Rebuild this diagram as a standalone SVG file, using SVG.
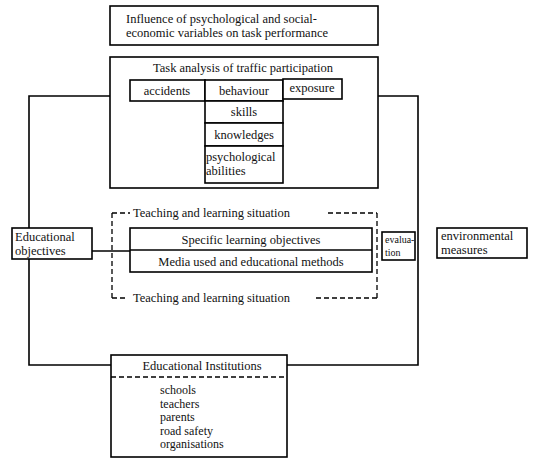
<svg xmlns="http://www.w3.org/2000/svg" width="536" height="458" viewBox="0 0 536 458">
<style>
.b{fill:#fff;stroke:#000;stroke-width:1.6}
.l{fill:none;stroke:#000;stroke-width:1.6}
.d{fill:none;stroke:#000;stroke-width:1.3;stroke-dasharray:5 3}
text{font-family:"Liberation Serif","Times New Roman",serif;font-size:12.5px;fill:#111}
.c{text-anchor:middle}
.s{font-size:10px}
.m{font-size:12px}
</style>
<rect width="536" height="458" fill="#fff"/>
<g id="connectors">
<polyline class="l" points="110,96 29,96 29,365 111,365"/>
<polyline class="l" points="378,96 418,96 418,365 287,365"/>
<line class="l" x1="92" y1="251" x2="130" y2="251"/>
</g>
<g id="influence">
<rect class="b" x="110" y="6" width="268" height="39"/>
<text x="126" y="23">Influence of psychological and social-</text>
<text x="126" y="37">economic variables on task performance</text>
</g>
<g id="task-analysis">
<rect class="b" x="110" y="57" width="268" height="131"/>
<text class="c" x="243" y="72">Task analysis of traffic participation</text>
</g>
<g id="accidents"><rect class="b" x="130" y="80" width="75" height="21"/><text class="c" x="167" y="95">accidents</text></g>
<g id="behaviour"><rect class="b" x="205" y="80" width="78" height="21"/><text class="c" x="244" y="95">behaviour</text></g>
<g id="exposure"><rect class="b" x="283" y="79" width="59" height="20"/><text class="c" x="312" y="92">exposure</text></g>
<g id="skills"><rect class="b" x="205" y="101" width="78" height="22"/><text class="c" x="244" y="116">skills</text></g>
<g id="knowledges"><rect class="b" x="205" y="123" width="78" height="23"/><text class="c" x="244" y="139">knowledges</text></g>
<g id="psychological-abilities"><rect class="b" x="205" y="146" width="78" height="37"/><text x="206" y="161">psychological</text><text x="206" y="175">abilities</text></g>
<g id="teaching-situation">
<line class="d" x1="112" y1="213" x2="112" y2="298"/>
<line class="d" x1="112" y1="213" x2="130" y2="213"/>
<text x="133" y="217">Teaching and learning situation</text>
<line class="d" x1="328" y1="213" x2="377" y2="213"/>
<line class="d" x1="377" y1="213" x2="377" y2="298"/>
<line class="d" x1="112" y1="298" x2="128" y2="298"/>
<text x="133" y="302">Teaching and learning situation</text>
<line class="d" x1="316" y1="298" x2="377" y2="298"/>
</g>
<g id="educational-objectives">
<rect class="b" x="12" y="228" width="80" height="31"/>
<text x="15" y="241">Educational</text>
<text x="15" y="255">objectives</text>
</g>
<g id="learning">
<rect class="b" x="130" y="228" width="242" height="44"/>
<line class="l" x1="130" y1="250" x2="372" y2="250"/>
<text class="c" x="251" y="244">Specific learning objectives</text>
<text class="c" x="251" y="266">Media used and educational methods</text>
</g>
<g id="evaluation">
<rect class="b" x="382" y="232" width="33" height="28"/>
<text class="s" x="385" y="243">evalua-</text>
<text class="s" x="385" y="256">tion</text>
</g>
<g id="environmental-measures">
<rect class="b" x="437" y="228" width="90" height="30"/>
<text x="441" y="240">environmental</text>
<text x="441" y="254">measures</text>
</g>
<g id="institutions">
<rect class="b" x="111" y="355" width="176" height="102"/>
<line class="d" x1="111" y1="377" x2="287" y2="377"/>
<text class="c" x="202" y="370">Educational Institutions</text>
<text class="m" x="160" y="394">schools</text>
<text class="m" x="160" y="407.5">teachers</text>
<text class="m" x="160" y="421">parents</text>
<text class="m" x="160" y="434.5">road safety</text>
<text class="m" x="160" y="448">organisations</text>
</g>
</svg>
